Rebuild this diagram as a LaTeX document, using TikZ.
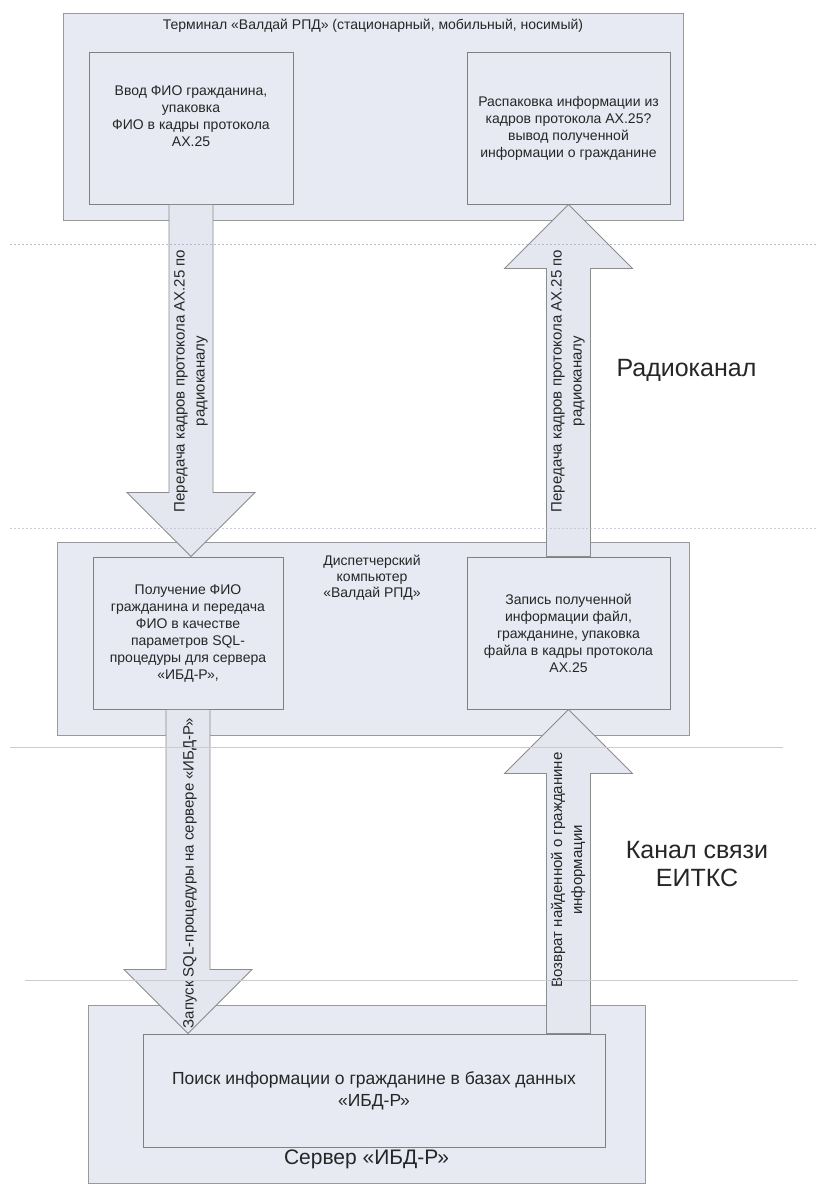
\documentclass[tikz,border=0pt]{standalone}
\usepackage{fontspec}
\setmainfont{Liberation Sans}
\usetikzlibrary{calc}

\definecolor{boxfill}{HTML}{E7EAF2}
\definecolor{arrowfill}{HTML}{E4E7F0}
\definecolor{sepcol}{HTML}{B4BDCD}

\newcommand{\fatarrow}[2]{%
  \draw[fat arrow] let \p1=(#1), \p2=(#2), \n1={sign(\y2-\y1)} in
    (\x1-22,\y1) -- (\x1-22,\y2-\n1*64) -- (\x1-64,\y2-\n1*64) -- (\x1,\y2)
    -- (\x1+64,\y2-\n1*64) -- (\x1+22,\y2-\n1*64) -- (\x1+22,\y1) -- cycle;}

\begin{document}
\begin{tikzpicture}[x=1pt,y=-1pt,
  box/.style={draw=black!40,fill=boxfill,line width=0.8pt,inner sep=0pt},
  inbox/.style={box,draw=black!50,line width=1pt},
  txt/.style={align=center,text=black!85,font=\fontsize{14}{17}\selectfont},
  fat arrow/.style={draw=black!45,fill=arrowfill,line width=0.8pt,line join=miter},
  vlabel/.style={txt,rotate=90,inner sep=0pt,font=\fontsize{15}{20}\selectfont},
  chan/.style={align=center,text=black!85,font=\fontsize{25}{28}\selectfont},
  sepline/.style={draw=sepcol,line width=0.9pt}]

  \useasboundingbox (0,0) rectangle (817,1184);

  \node[box,minimum width=620pt,minimum height=207pt] (term) at (373,116.5) {};
  \node[box,minimum width=632pt,minimum height=193pt] (disp) at (373,638.5) {};
  \node[box,minimum width=557pt,minimum height=178pt] (serv) at (366.5,1094) {};

  \node[txt] (termtitle) at (373,26) {Терминал «Валдай РПД» (стационарный, мобильный, носимый)};
  \node[txt,font=\fontsize{14}{16}\selectfont] (disptitle) at (372,578) {Диспетчерский\\компьютер\\«Валдай РПД»};
  \node[txt,font=\fontsize{21}{24}\selectfont] (servtitle) at (366.5,1159) {Сервер «ИБД-Р»};

  \node[inbox,txt,minimum width=204pt,minimum height=152pt] (termin) at (191,128)
    {Ввод  ФИО гражданина,\\упаковка\\ФИО в кадры протокола\\АХ.25\\[6pt]};
  \node[inbox,txt,minimum width=203pt,minimum height=152pt] (termout) at (568.5,128)
    {Распаковка информации из\\кадров протокола АХ.25?\\вывод полученной\\информации о гражданине};
  \node[inbox,txt,minimum width=190pt,minimum height=152pt] (dispin) at (188,633)
    {Получение ФИО\\гражданина и передача\\ФИО в качестве\\параметров SQL-\\процедуры для сервера\\«ИБД-Р»,};
  \node[inbox,txt,minimum width=203pt,minimum height=152pt] (dispout) at (568.5,633)
    {Запись полученной\\информации файл,\\гражданине, упаковка\\файла в кадры протокола\\АХ.25};
  \node[inbox,txt,minimum width=462pt,minimum height=113pt,font=\fontsize{17.5}{22}\selectfont] (search) at (374,1090.5)
    {Поиск информации о гражданине в базах данных\\«ИБД-Р»};

  \fatarrow{termin.south}{termin.south |- dispin.north}
  \fatarrow{dispout.north}{termout.south}
  \fatarrow{dispin.south}{dispin.south |- search.north}
  \fatarrow{dispout.south |- search.north}{dispout.south}

  \node[vlabel] (send1) at (191,381) {Передача кадров протокола АХ.25 по\\радиоканалу};
  \node[vlabel] (send2) at (568,381) {Передача кадров протокола АХ.25 по\\радиоканалу};
  \node[vlabel] (query) at (190,873) {Запуск SQL-процедуры на сервере «ИБД-Р»};
  \node[vlabel] (reply) at (568,870) {Возврат найденной о гражданине\\информации};

  \node[chan,anchor=west] (radio) at (613,370) {Радиоканал};
  \node[chan] (eitks) at (697,864) {Канал связи\\ЕИТКС};

  \draw[sepline,dash pattern=on 2pt off 2pt] (10,244) -- (817,244);
  \draw[sepline,dash pattern=on 2pt off 2pt,opacity=0.7] (10,528) -- (817,528);
  \draw[sepline,draw=black!20] (10,747) -- (783,747);
  \draw[sepline,draw=black!20] (25,980) -- (798,980);

\end{tikzpicture}
\end{document}
